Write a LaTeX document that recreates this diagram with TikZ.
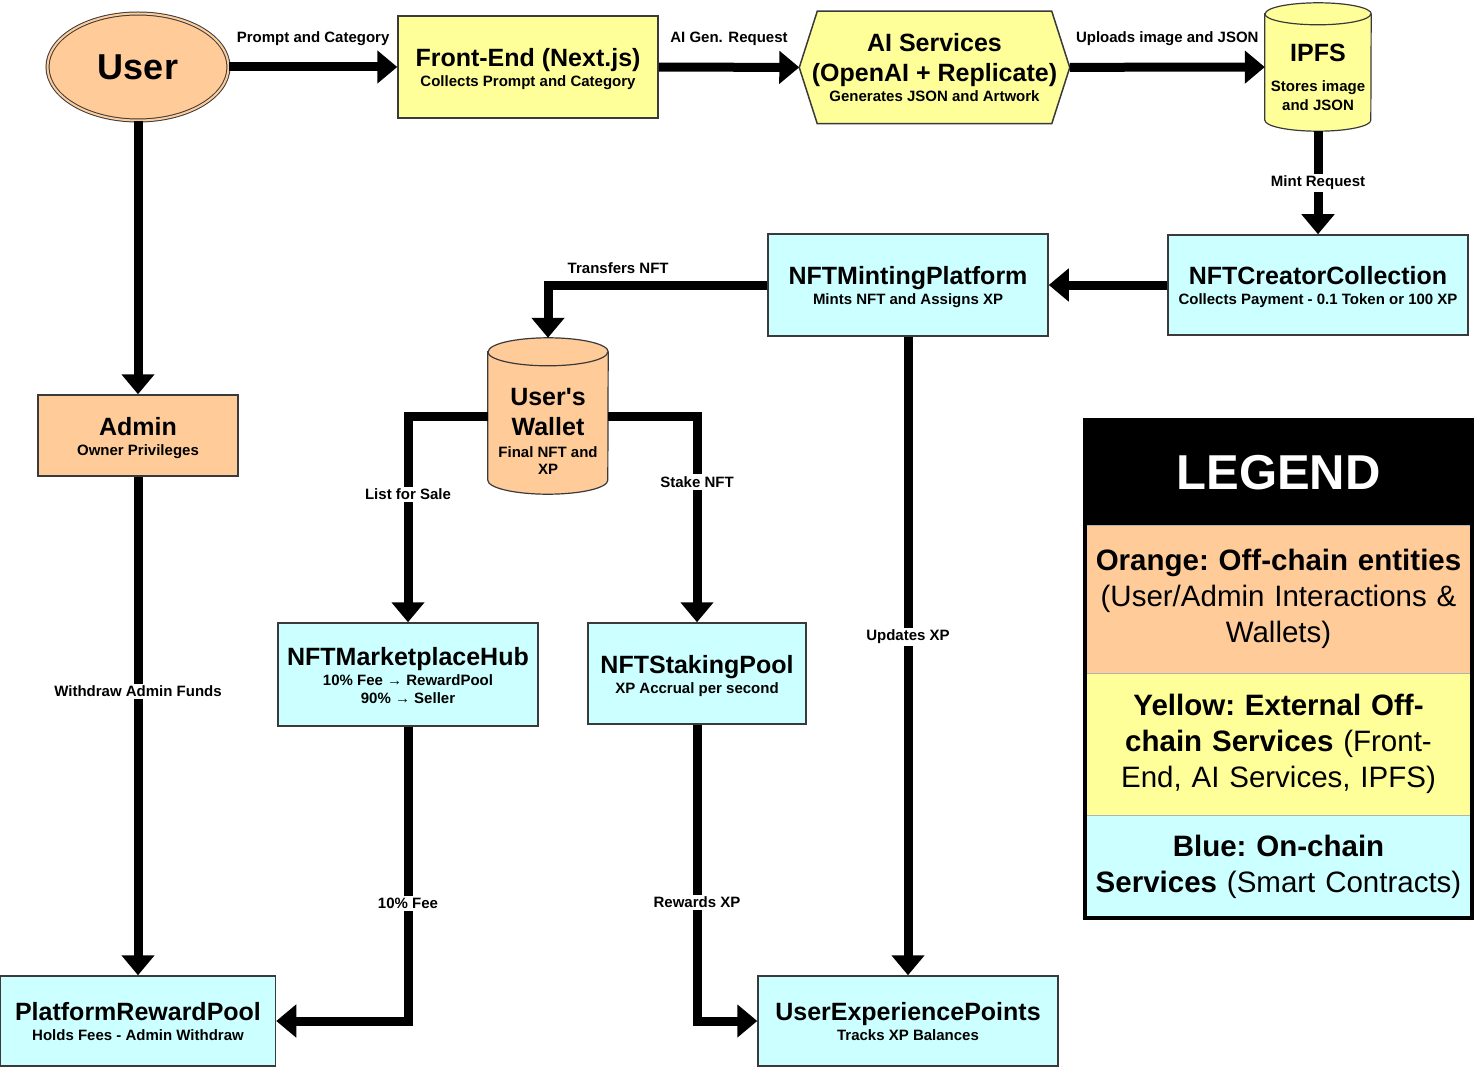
\documentclass[tikz,border=0pt]{standalone}
\usepackage{fontspec}
\setmainfont{Liberation Sans}
\usetikzlibrary{arrows.meta,shapes.geometric,positioning,backgrounds}

\definecolor{offchain}{HTML}{FFCC99}
\definecolor{extsvc}{HTML}{FFFF99}
\definecolor{onchain}{HTML}{CCFFFF}
\definecolor{edgegray}{HTML}{3A3A3A}

\newcommand{\ttl}[1]{{\fontsize{25}{28}\selectfont\rule[-6pt]{0pt}{29pt}#1}}
\newcommand{\sbt}[1]{{\fontsize{15}{17}\selectfont\rule[-4pt]{0pt}{17pt}#1}}
% cylinder outline round a named node: node, x radius, y radius, fill
\newcommand{\cylshape}[4]{%
  \draw[cylline, fill=#4] ([yshift=-#3]#1.north west) -- ([yshift=#3]#1.south west)
    arc[start angle=180, end angle=360, x radius=#2, y radius=#3]
    -- ([yshift=-#3]#1.north east)
    arc[start angle=0, end angle=180, x radius=#2, y radius=#3] -- cycle;
  \draw[cylline] ([yshift=-#3]#1.north west)
    arc[start angle=180, end angle=360, x radius=#2, y radius=#3];}

\tikzset{
  box/.style={draw=edgegray, line width=1.5pt, inner sep=2pt, align=center,
    font=\fontsize{15}{0}\selectfont\bfseries},
  offbox/.style={box, rectangle, fill=offchain},
  extbox/.style={box, rectangle, fill=extsvc},
  onbox/.style={box, rectangle, fill=onchain},
  dbspot/.style={rectangle, inner sep=0pt},
  cylline/.style={draw=edgegray, line width=1.2pt},
  flow/.style={line width=9pt, -{Triangle[length=20pt,width=32pt]}},
  lbl/.style={font=\fontsize{15}{17}\selectfont\bfseries, inner sep=2pt},
  onlbl/.style={lbl, fill=white},
  legpart/.style={rectangle, draw=gray!60, line width=1pt, minimum width=387pt,
    text width=385pt, align=center, inner sep=0pt, outer sep=0pt,
    font=\fontsize{29.5}{36}\selectfont\frenchspacing}
}

\begin{document}
\begin{tikzpicture}[x=1pt, y=-1pt]
    \useasboundingbox (0,0) rectangle (1474,1067);
    \begin{scope}[on background layer]
      \fill[white] (0,0) rectangle (1474,1067);
    \end{scope}

    % Off-chain side
    \node[offbox, ellipse, minimum width=181pt, minimum height=107pt, inner sep=0pt,
      line width=1pt, double=offchain, double distance=2pt] (user) at (138,67)
      {\fontsize{36}{40}\selectfont User};
    \node[extbox, minimum width=260pt, minimum height=102pt] (front) at (528,67)
      {\ttl{Front-End (Next.js)}\\\sbt{Collects Prompt and Category}};
    \node[box, draw=none, minimum width=269pt, minimum height=111pt] (ai) at (934.5,67.5)
      {\ttl{AI Services}\\\ttl{(OpenAI + Replicate)}\\\sbt{Generates JSON and Artwork}};
    \node[dbspot, minimum width=106pt, minimum height=128pt] (ipfs) at (1318,67) {};
    \node[lbl, align=center, inner sep=0pt] (ipfsText) at (1318,76.5)
      {\ttl{IPFS}\\[10pt]\sbt{Stores image}\\[2pt]\sbt{and JSON}};
    \node[offbox, minimum width=200pt, minimum height=81pt] (admin) at (138,435.5)
      {\ttl{Admin}\\\sbt{Owner Privileges}};
    \node[dbspot, minimum width=120pt, minimum height=156pt] (wallet) at (548,416) {};
    \node[lbl, align=center, inner sep=0pt] (walletText) at (548,430.5)
      {\ttl{User\textquotesingle s}\\\ttl{Wallet}\\[1.5pt]\sbt{Final NFT and}\\\sbt{XP}};

    % Smart contracts
    \node[onbox, minimum width=300pt, minimum height=100pt] (creator) at (1318,285)
      {\ttl{NFTCreatorCollection}\\\sbt{Collects Payment - 0.1 Token or 100 XP}};
    \node[onbox, minimum width=280pt, minimum height=102pt] (mint) at (908,285)
      {\ttl{NFTMintingPlatform}\\\sbt{Mints NFT and Assigns XP}};
    \node[onbox, minimum width=260pt, minimum height=103pt] (market) at (408,674.5)
      {\ttl{NFTMarketplaceHub}\\\sbt{10\% Fee → RewardPool}\\\sbt{90\% → Seller}};
    \node[onbox, minimum width=218pt, minimum height=101pt] (stake) at (697,673.5)
      {\ttl{NFTStakingPool}\\\sbt{XP Accrual per second}};
    \node[onbox, minimum width=275pt, minimum height=90pt] (reward) at (138,1021)
      {\ttl{PlatformRewardPool}\\\sbt{Holds Fees - Admin Withdraw}};
    \node[onbox, minimum width=300pt, minimum height=90pt] (uxp) at (908,1021)
      {\ttl{UserExperiencePoints}\\\sbt{Tracks XP Balances}};

    % Hexagon and cylinders behind the texts
    \begin{scope}[on background layer]
      \draw[draw=edgegray, line width=1.5pt, fill=extsvc] (ai.west)
        -- ([xshift=18pt]ai.north west) -- ([xshift=-18pt]ai.north east) -- (ai.east)
        -- ([xshift=-18pt]ai.south east) -- ([xshift=18pt]ai.south west) -- cycle;
      \cylshape{ipfs}{53pt}{11pt}{extsvc}
      \cylshape{wallet}{60pt}{14pt}{offchain}
    \end{scope}

    % Flows
    \draw[flow] (user) -- node[lbl, above=15pt] {Prompt and Category} (front);
    \draw[flow] (front) -- node[lbl, above=15pt] {AI Gen. Request} (ai);
    \draw[flow] (ai) -- node[lbl, above=15pt] {Uploads image and JSON} (ipfs);
    \draw[flow] (ipfs) -- node[onlbl] {Mint Request} (creator);
    \draw[flow] (creator) -- (mint);
    \draw[flow] (mint) -| node[lbl, pos=0.34, above=5pt] {Transfers NFT} (wallet);
    \draw[flow] (wallet) -| node[onlbl, pos=0.69] {List for Sale} (market);
    \draw[flow] (wallet) -| node[onlbl, pos=0.66] {Stake NFT} (stake);
    \draw[flow] (mint) -- node[onlbl, pos=0.47] {Updates XP} (uxp);
    \draw[flow] (stake) |- node[onlbl, pos=0.3] {Rewards XP} (uxp);
    \draw[flow] (market) |- node[onlbl, pos=0.3] {10\% Fee} (reward);
    \draw[flow] (user) -- (admin);
    \draw[flow] (admin) -- node[onlbl, pos=0.43] {Withdraw Admin Funds} (reward);

    % Legend
    \node[legpart, fill=black, text=white, minimum height=105pt,
      font=\fontsize{49}{52}\selectfont\bfseries] (legHead) at (1278.5,472.5) {LEGEND};
    \node[legpart, fill=offchain, minimum height=148pt, below=0pt of legHead] (legOff)
      {\textbf{Orange: Off-chain entities}\\(User/Admin Interactions \&\\Wallets)};
    \node[legpart, fill=extsvc, minimum height=142pt, below=0pt of legOff] (legExt)
      {\textbf{Yellow: External Off-}\\\textbf{chain Services} (Front-\\End, AI Services, IPFS)};
    \node[legpart, fill=onchain, minimum height=103pt, below=0pt of legExt] (legOn)
      {\textbf{Blue: On-chain}\\\textbf{Services} (Smart Contracts)};
    \draw[line width=4pt] (legHead.north west) rectangle (legOn.south east);
\end{tikzpicture}
\end{document}
